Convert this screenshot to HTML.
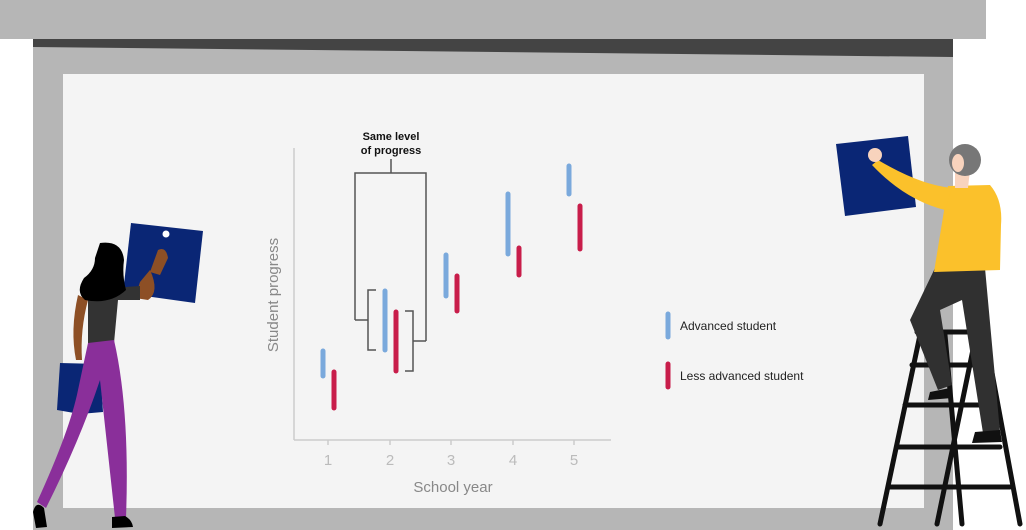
<!DOCTYPE html>
<html><head><meta charset="utf-8"><style>
html,body{margin:0;padding:0;background:#fff;}
svg{display:block;}
text{font-family:"Liberation Sans",Arial,sans-serif;}
</style></head><body>
<svg width="1026" height="530" viewBox="0 0 1026 530" xmlns="http://www.w3.org/2000/svg">
<rect x="0" y="0" width="1026" height="530" fill="#fff"/>
<rect x="0" y="0" width="986" height="39" fill="#b6b6b6"/>
<rect x="33" y="39" width="920" height="491" fill="#b6b6b6"/>
<polygon points="33,39 953,39 953,57 33,47" fill="#444"/>
<rect x="63" y="74" width="861" height="434" fill="#f4f4f4"/>

<!-- axes -->
<g stroke="#ccc" stroke-width="1.5" fill="none">
<line x1="294" y1="148" x2="294" y2="440"/>
<line x1="294" y1="440" x2="611" y2="440"/>
<line x1="328" y1="440" x2="328" y2="445"/><line x1="390" y1="440" x2="390" y2="445"/>
<line x1="451" y1="440" x2="451" y2="445"/><line x1="513" y1="440" x2="513" y2="445"/>
<line x1="574" y1="440" x2="574" y2="445"/>
</g>
<g fill="#bbb" font-size="15" text-anchor="middle">
<text x="328" y="465">1</text><text x="390" y="465">2</text><text x="451" y="465">3</text><text x="513" y="465">4</text><text x="574" y="465">5</text>
</g>
<text x="453" y="492" font-size="15" fill="#888" text-anchor="middle">School year</text>
<text transform="translate(278,295) rotate(-90)" font-size="15" fill="#888" text-anchor="middle">Student progress</text>

<!-- bars -->
<g stroke-width="5" stroke-linecap="round">
<g stroke="#7aa9dc">
<line x1="323" y1="351" x2="323" y2="376"/><line x1="385" y1="291" x2="385" y2="350"/>
<line x1="446" y1="255" x2="446" y2="296"/><line x1="508" y1="194" x2="508" y2="254"/>
<line x1="569" y1="166" x2="569" y2="194"/><line x1="668" y1="314" x2="668" y2="337"/>
</g>
<g stroke="#c81d4a">
<line x1="334" y1="372" x2="334" y2="408"/><line x1="396" y1="312" x2="396" y2="371"/>
<line x1="457" y1="276" x2="457" y2="311"/><line x1="519" y1="248" x2="519" y2="275"/>
<line x1="580" y1="206" x2="580" y2="249"/><line x1="668" y1="364" x2="668" y2="387"/>
</g>
</g>

<!-- brackets -->
<g stroke="#555" stroke-width="1.5" fill="none">
<polyline points="355,320 355,173 426,173 426,341"/>
<line x1="391" y1="159" x2="391" y2="173"/>
<polyline points="376,290 368,290 368,350 376,350"/>
<line x1="355" y1="320" x2="368" y2="320"/>
<polyline points="405,311 413,311 413,371 405,371"/>
<line x1="413" y1="341" x2="426" y2="341"/>
</g>
<g font-size="11" fill="#111" text-anchor="middle" font-weight="bold">
<text x="391" y="140">Same level</text><text x="391" y="154">of progress</text>
</g>
<text x="680" y="330" font-size="12" fill="#222">Advanced student</text>
<text x="680" y="380" font-size="12" fill="#222">Less advanced student</text>

<!-- woman -->
<polygon points="131,223 203,231 195,303 123,293" fill="#0a2675"/>
<circle cx="166" cy="234" r="3.5" fill="#fff"/>
<polygon points="60,363 100,364 103,412 80,414 57,410" fill="#0a2675"/>
<path d="M150,270 Q160,292 148,300 L135,298 L140,282 L150,270 Z" fill="#8d4f25"/>
<path d="M158,250 Q166,246 168,258 L160,275 L150,272 Z" fill="#8d4f25"/>
<path d="M78,295 Q70,330 76,360 L82,360 Q80,330 88,300 Z" fill="#8d4f25"/>
<path d="M82,290 L140,286 L140,300 L118,300 L114,343 L88,345 L88,300 Z" fill="#333"/>
<path d="M100,243 Q122,240 124,260 Q122,275 126,290 Q110,305 85,300 Q75,292 84,278 Q95,270 95,258 Z" fill="#000"/>
<path d="M88,343 L114,340 Q130,410 126,518 L115,518 L100,380 Q80,440 46,508 L37,502 Q70,430 78,390 Z" fill="#8a2f9a"/>
<path d="M33,512 Q36,500 44,508 L47,527 L36,528 Z" fill="#000"/>
<path d="M112,517 L125,516 Q132,520 133,527 L112,528 Z" fill="#000"/>

<!-- man -->
<polygon points="836,144 908,136 916,207 845,216" fill="#0a2675"/>
<!-- ladder -->
<g stroke="#111" stroke-width="5" stroke-linecap="round">
<line x1="880" y1="524" x2="920" y2="335"/>
<line x1="937" y1="524" x2="976" y2="335"/>
<line x1="962" y1="524" x2="945" y2="335"/>
<line x1="1020" y1="524" x2="985" y2="335"/>
<line x1="917" y1="332" x2="975" y2="332"/>
<line x1="912" y1="365" x2="978" y2="365"/>
<line x1="905" y1="405" x2="985" y2="405"/>
<line x1="897" y1="447" x2="1000" y2="447"/>
<line x1="889" y1="487" x2="1010" y2="487"/>
</g>
<path d="M935,268 L985,268 L1000,432 L983,433 L962,300 L940,310 L952,385 L938,390 L910,320 Z" fill="#303030"/>
<path d="M930,392 L950,388 L952,398 L928,400 Z" fill="#111"/>
<path d="M975,432 L1000,430 L1002,442 L972,443 Z" fill="#111"/>
<path d="M948,186 L990,185 Q1003,200 1001,225 L1000,270 L934,272 Z" fill="#fbc12b"/>
<path d="M952,188 Q920,185 878,160 L872,165 Q905,200 945,210 Z" fill="#fbc12b"/>
<circle cx="875" cy="155" r="7" fill="#f8d3bd"/>
<path d="M955,170 L970,170 L968,188 L955,188 Z" fill="#f8d3bd"/>
<circle cx="965" cy="160" r="16" fill="#777"/>
<ellipse cx="958" cy="163" rx="6" ry="9" fill="#f8d3bd"/>
</svg>
</body></html>
